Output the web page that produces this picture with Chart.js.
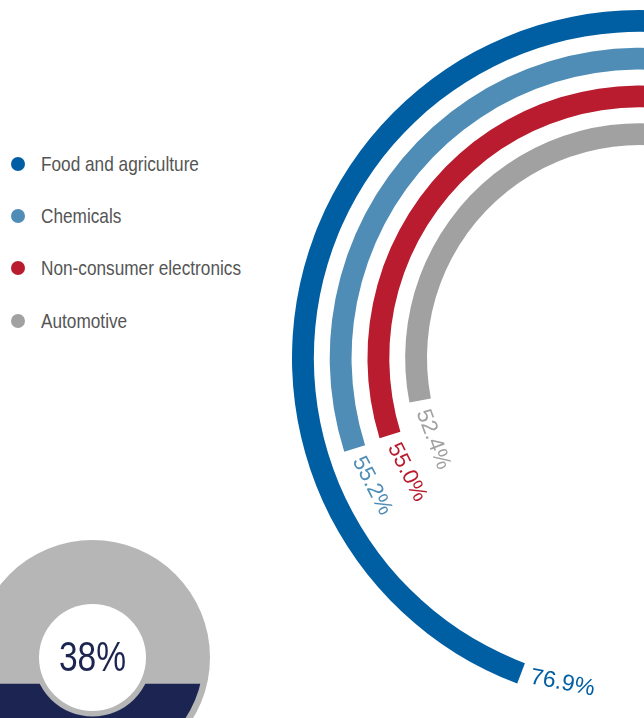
<!DOCTYPE html>
<html>
<head>
<meta charset="utf-8">
<script src="https://cdn.jsdelivr.net/npm/chart.js@4/dist/chart.umd.min.js"></script>
<style>
  html, body { margin: 0; padding: 0; background: #fff; }
  body { width: 644px; height: 718px; overflow: hidden; position: relative;
         font-family: 'Liberation Sans', Arial, sans-serif; }
  #rings { position: absolute; left: 292px; top: 10px; }
  #gauge { position: absolute; left: -25px; top: 540px; }
  #legend { position: absolute; left: 11px; top: 137.5px; margin: 0; padding: 0; list-style: none; }
  #legend li { height: 52.3px; display: flex; align-items: center; font-size: 21px; color: #555; white-space: nowrap; }
  #legend .dot { width: 14px; height: 14px; border-radius: 50%; margin-right: 16px; flex: none; }
  #legend .txt { display: inline-block; transform: scaleX(0.82); transform-origin: left center; }
</style>
</head>
<body>
<ul id="legend"></ul>
<canvas id="rings" width="696" height="696"></canvas>
<canvas id="gauge" width="235" height="235"></canvas>
<script>
// data
const sectors = ['Food and agriculture', 'Chemicals', 'Non-consumer electronics', 'Automotive'];
const shares = [76.9, 55.2, 55.0, 52.4];
const colors = ['#005ea3', '#4f8db6', '#b81c2e', '#a0a1a0'];
const gaugeLabel = ['Share'];
const gaugeValue = [38];

// a full turn of the rings stands for this many percent
const ringFull = 151;
const ringStart = 24;   // degrees past 12 o'clock where 0% sits (off the page)

const fontStack = "'Liberation Sans', Arial, sans-serif";

// legend
const legend = document.getElementById('legend');
sectors.forEach((name, i) => {
  const li = document.createElement('li');
  li.innerHTML = '<span class="dot" style="background:' + colors[i] + '"></span><span class="txt">' + name + '</span>';
  legend.appendChild(li);
});

// rings: one dataset per sector, transparent spacer rings in between
const ringSets = [];
sectors.forEach((name, i) => {
  if (i > 0) {
    ringSets.push({ label: 'gap', data: [1], backgroundColor: ['rgba(0,0,0,0)'], weight: 16, borderWidth: 0 });
  }
  ringSets.push({
    label: name,
    data: [ringFull - shares[i], shares[i]],
    backgroundColor: ['rgba(0,0,0,0)', colors[i]],
    weight: 22,
    borderWidth: 0,
    sector: i
  });
});

// value labels just past the end of each ring
const ringLabels = {
  id: 'ringLabels',
  afterDatasetsDraw(chart) {
    const ctx = chart.ctx;
    chart.data.datasets.forEach((ds, di) => {
      if (ds.sector === undefined) return;
      const arc = chart.getDatasetMeta(di).data[1];
      const a = arc.startAngle;
      const r = (arc.innerRadius + arc.outerRadius) / 2;
      const gap = 10;
      const px = arc.x + r * Math.cos(a) + gap * Math.sin(a);
      const py = arc.y + r * Math.sin(a) - gap * Math.cos(a);
      ctx.save();
      ctx.translate(px, py);
      ctx.rotate(a - Math.PI / 2 - 0.17);
      ctx.fillStyle = colors[ds.sector];
      ctx.font = (ds.sector === 0 ? 23 : 22) + 'px ' + fontStack;
      ctx.textAlign = 'left';
      ctx.textBaseline = 'middle';
      ctx.fillText(shares[ds.sector].toFixed(1) + '%', 0, 0);
      ctx.restore();
    });
  }
};

new Chart(document.getElementById('rings'), {
  type: 'doughnut',
  data: { labels: ['rest', 'share'], datasets: ringSets },
  options: {
    responsive: false,
    animation: false,
    rotation: ringStart,
    cutout: 213,
    plugins: { legend: { display: false }, tooltip: { enabled: false } }
  },
  plugins: [ringLabels]
});

// gauge: a bar filled to the value, clipped to a disc
const gaugeDisc = {
  id: 'gaugeDisc',
  beforeDatasetsDraw(chart) {
    const { ctx, chartArea: ca } = chart;
    const cx = (ca.left + ca.right) / 2, cy = (ca.top + ca.bottom) / 2;
    const r = (ca.right - ca.left) / 2;
    ctx.save();
    ctx.fillStyle = '#b5b6b5';
    ctx.beginPath();
    ctx.arc(cx, cy, r + 6.5, 0, Math.PI * 2);
    ctx.fill();
    ctx.beginPath();
    ctx.arc(cx, cy, r, 0, Math.PI * 2);
    ctx.clip();
  },
  afterDatasetsDraw(chart) {
    const { ctx, chartArea: ca } = chart;
    ctx.restore();
    const cx = (ca.left + ca.right) / 2, cy = (ca.top + ca.bottom) / 2;
    ctx.save();
    ctx.fillStyle = '#b5b6b5';
    ctx.beginPath();
    ctx.arc(cx, cy, 59, 0, Math.PI * 2);
    ctx.fill();
    ctx.fillStyle = '#fff';
    ctx.beginPath();
    ctx.arc(cx, cy, 53.5, 0, Math.PI * 2);
    ctx.fill();
    ctx.fillStyle = '#1c2551';
    ctx.font = '43px ' + fontStack;
    ctx.textAlign = 'center';
    ctx.textBaseline = 'middle';
    ctx.translate(cx, cy + 2);
    ctx.scale(0.78, 1);
    ctx.fillText(gaugeValue[0] + '%', 0, 0);
    ctx.restore();
  }
};

new Chart(document.getElementById('gauge'), {
  type: 'bar',
  data: {
    labels: gaugeLabel,
    datasets: [{ data: gaugeValue, backgroundColor: '#1c2551', borderWidth: 0,
                 barPercentage: 1, categoryPercentage: 1 }]
  },
  options: {
    responsive: false,
    animation: false,
    layout: { padding: 6.5 },
    scales: {
      x: { display: false },
      y: { display: false, min: 0, max: 100 }
    },
    plugins: { legend: { display: false }, tooltip: { enabled: false } }
  },
  plugins: [gaugeDisc]
});
</script>
</body>
</html>
